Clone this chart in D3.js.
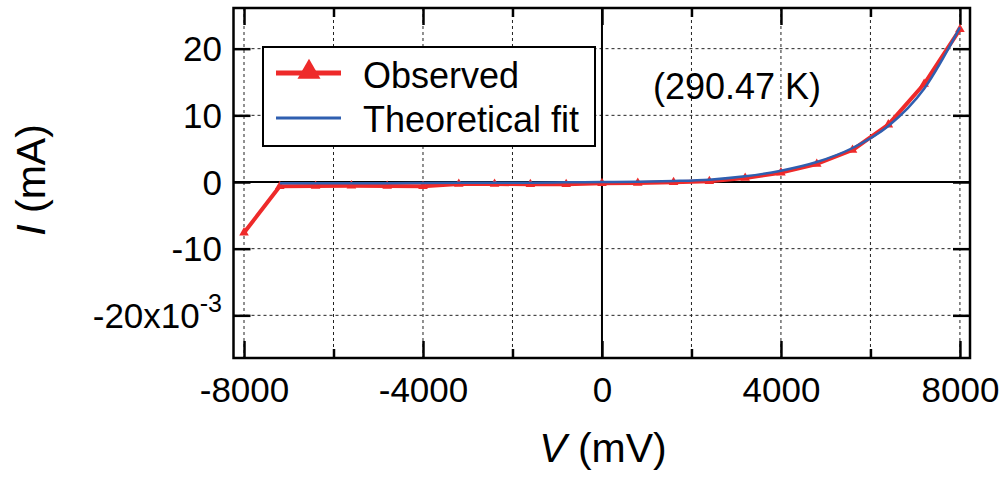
<!DOCTYPE html>
<html><head><meta charset="utf-8">
<script src="https://cdn.jsdelivr.net/npm/d3@7"></script>
<style>
body{margin:0;background:#fff}
svg{display:block}
text{font-family:"Liberation Sans",Arial,sans-serif;fill:#000}
</style>
</head><body>
<svg id="chart" width="1005" height="480"></svg>
<script>
// ---- data ----
const voltages = [-8000,-7200,-6400,-5600,-4800,-4000,-3200,-2400,-1600,-800,0,800,1600,2400,3200,4000,4800,5600,6400,7200,8000];
const observedCurrent = [-7.6,-0.65,-0.6,-0.55,-0.6,-0.65,-0.3,-0.3,-0.35,-0.35,-0.2,-0.15,-0.05,0.1,0.6,1.4,2.7,4.8,8.6,14.7,22.9];
const fitVoltages = [-7200,-6400,-5600,-4800,-4000,-3200,-2400,-1600,-800,0,800,1600,2400,3200,4000,4800,5600,6400,7200,8000];
const fitCurrent = [-0.2,-0.2,-0.2,-0.2,-0.15,-0.12,-0.1,-0.1,-0.05,0,0.05,0.15,0.35,0.85,1.7,3.0,5.1,8.4,14.0,23.2];
const xMajorTicks = [-8000,-4000,0,4000,8000];
const xTickLabels = ["-8000","-4000","0","4000","8000"];
const xMinorTicks = [-6000,-2000,2000,6000];
const yTicks = [-20,-10,0,10,20];
const yTickLabels = ["-20x10","-10","0","10","20"];
const seriesNames = ["Observed","Theoretical fit"];
const annotation = "(290.47 K)";

// ---- layout ----
const L = 233.5, R = 970, T = 8, B = 358;
const svg = d3.select("#chart");
const x = d3.scaleLinear().domain([-8235, 8225]).range([L, R]);
const y = d3.scaleLinear().domain([-26.4, 26.1]).range([B, T]);

// grid
const gridX = xMajorTicks.concat(xMinorTicks).filter(v => v !== 0);
svg.append("g").selectAll("line").data(gridX).join("line")
  .attr("x1", d => x(d)).attr("x2", d => x(d)).attr("y1", T).attr("y2", B)
  .attr("stroke", "#222").attr("stroke-width", 1).attr("stroke-dasharray", "3,3");
svg.append("g").selectAll("line").data(yTicks.filter(v => v !== 0)).join("line")
  .attr("y1", d => y(d)).attr("y2", d => y(d)).attr("x1", L).attr("x2", R)
  .attr("stroke", "#222").attr("stroke-width", 1).attr("stroke-dasharray", "3,3");

// zero lines
svg.append("line").attr("x1", x(0)).attr("x2", x(0)).attr("y1", T).attr("y2", B)
  .attr("stroke", "#000").attr("stroke-width", 2);
svg.append("line").attr("y1", y(0)).attr("y2", y(0)).attr("x1", L).attr("x2", R)
  .attr("stroke", "#000").attr("stroke-width", 2);

// axes with inward ticks
const major = 17, minor = 9;
const axB = svg.append("g").attr("transform", `translate(0,${B})`)
  .call(d3.axisBottom(x).tickValues(xMajorTicks).tickSize(-major).tickFormat((d,i) => xTickLabels[i]));
svg.append("g").attr("transform", `translate(0,${B})`)
  .call(d3.axisBottom(x).tickValues(xMinorTicks).tickSize(-minor).tickFormat(""));
svg.append("g").attr("transform", `translate(0,${T})`)
  .call(d3.axisTop(x).tickValues(xMajorTicks).tickSize(-major).tickFormat(""));
svg.append("g").attr("transform", `translate(0,${T})`)
  .call(d3.axisTop(x).tickValues(xMinorTicks).tickSize(-minor).tickFormat(""));
const axL = svg.append("g").attr("transform", `translate(${L},0)`)
  .call(d3.axisLeft(y).tickValues(yTicks).tickSize(-major).tickFormat((d,i) => yTickLabels[i]));
svg.append("g").attr("transform", `translate(${R},0)`)
  .call(d3.axisRight(y).tickValues(yTicks).tickSize(-major).tickFormat(""));
svg.selectAll(".domain").remove();
svg.selectAll(".tick line").attr("stroke", "#000").attr("stroke-width", 2.5);
svg.selectAll(".tick text").style("font-size", "35px").attr("fill", "#000");
axB.selectAll(".tick text").attr("dy", 0).attr("y", 402 - B);
axL.selectAll(".tick text").attr("dy", "0.35em").attr("x", 222 - L);
// superscript -3
axL.selectAll(".tick text").filter(d => d === -20)
  .append("tspan").attr("dy", "-0.65em").style("font-size", "25px").text("-3");

// frame
svg.append("rect").attr("x", L).attr("y", T).attr("width", R - L).attr("height", B - T)
  .attr("fill", "none").attr("stroke", "#000").attr("stroke-width", 2.5);

// series
const red = "#ee2a2a", blue = "#2f5fb0";
const obs = voltages.map((v, i) => [v, observedCurrent[i]]);
const fit = fitVoltages.map((v, i) => [v, fitCurrent[i]]);
svg.append("path").datum(obs)
  .attr("d", d3.line().x(d => x(d[0])).y(d => y(d[1])))
  .attr("fill", "none").attr("stroke", red).attr("stroke-width", 4).attr("stroke-linejoin", "round");
const tri = d3.symbol().type(d3.symbolTriangle);
svg.append("g").selectAll("path").data(obs).join("path")
  .attr("d", tri.size(40)())
  .attr("transform", d => `translate(${x(d[0])},${y(d[1])})`)
  .attr("fill", red);
svg.append("path").datum(fit)
  .attr("d", d3.line().curve(d3.curveMonotoneX).x(d => x(d[0])).y(d => y(d[1])))
  .attr("fill", "none").attr("stroke", blue).attr("stroke-width", 2.5);

// legend
const lg = svg.append("g");
lg.append("rect").attr("x", 263).attr("y", 47).attr("width", 332).attr("height", 99)
  .attr("fill", "#fff").attr("stroke", "#000").attr("stroke-width", 2);
lg.append("line").attr("x1", 276).attr("x2", 341).attr("y1", 73).attr("y2", 73)
  .attr("stroke", red).attr("stroke-width", 5);
lg.append("path").attr("d", tri.size(230)()).attr("transform", "translate(309,72)").attr("fill", red);
lg.append("line").attr("x1", 276).attr("x2", 341).attr("y1", 118).attr("y2", 118)
  .attr("stroke", blue).attr("stroke-width", 3);
lg.selectAll("text.lab").data(seriesNames).join("text").attr("class", "lab")
  .attr("x", 363).attr("y", (d, i) => 88 + i * 44).style("font-size", "36px").text(d => d);

// annotation
svg.append("text").attr("x", 653).attr("y", 99).style("font-size", "36px").text(annotation);

// axis titles
const xt = svg.append("text").attr("x", 603).attr("y", 462).attr("text-anchor", "middle").style("font-size", "41px");
xt.append("tspan").style("font-style", "italic").text("V");
xt.append("tspan").text(" (mV)");
const yt = svg.append("text").attr("transform", "translate(45,180) rotate(-90)").attr("text-anchor", "middle").style("font-size", "41px");
yt.append("tspan").style("font-style", "italic").text("I");
yt.append("tspan").text(" (mA)");
</script>
</body></html>
